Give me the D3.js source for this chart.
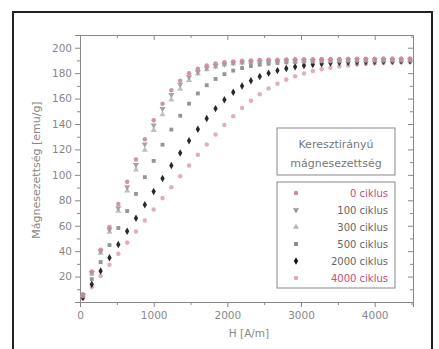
<!DOCTYPE html>
<html><head>
<meta charset="utf-8">
<script src="https://d3js.org/d3.v7.min.js"></script>
<style>
  body { margin: 0; background: #fff; }
  text { font-family: "DejaVu Sans", "Liberation Sans", sans-serif; }
  .tick text { fill: #888; font-size: 10.5px; }
  .tick line, .domain { stroke: #888; }
</style>
</head>
<body>
<script>
// field values [A/m]
const H = [40,160,280,400,520,640,760,880,1000,1120,1240,1360,1480,1600,1720,1840,1960,2080,2200,2320,
           2440,2560,2680,2800,2920,3040,3160,3280,3400,3520,3640,3760,3880,4000,4120,4240,4360,4480];

// magnetisation [emu/g] for each cycle count
const m0    = [6,24,41,59,77,94.5,112,128,143,156,166.5,174,180,183.5,186,187.5,188.5,189.2,189.7,190,
               190.3,190.5,190.6,190.8,190.9,191,191,191.1,191.2,191.2,191.3,191.3,191.4,191.4,191.5,191.5,191.5,191.6];
const m100  = [5.7,23,40,57,74,90.5,108,124,139,152,163,171,177,181,184,185.8,187,187.9,188.4,188.8,
               189,189.2,189.4,189.5,189.6,189.7,189.8,189.9,190,190,190.1,190.1,190.2,190.2,190.3,190.3,190.4,190.4];
const m300  = [5.5,22,38.6,55,71.5,87.5,104,119.5,135,147.5,159,167.5,174.5,179.5,182.8,185,186.6,187.6,188.2,188.7,
               189,189.2,189.4,189.5,189.6,189.7,189.8,189.9,190,190,190.1,190.1,190.2,190.2,190.3,190.3,190.3,190.4];
const m500  = [4.5,18,31.4,44.8,58.2,71.5,85,98.2,111,123.7,135.6,146.5,156,164,170.5,175.4,179.2,182,184,185.6,
               186.6,187.4,188,188.4,188.7,189,189.2,189.4,189.5,189.6,189.7,189.8,189.9,190,190,190.1,190.1,190.2];
const m2000 = [3.5,13.9,24.4,34.8,45.2,55.7,65.9,76.5,86.9,97.1,107.3,117.2,126.8,135.9,144.4,152.1,159,164.9,169.9,174,
               177.3,180,182,183.7,185,186,186.8,187.4,187.9,188.3,188.6,188.8,189,189.2,189.3,189.4,189.5,189.6];
const m4000 = [2.9,11.7,20.4,29.2,38,46.7,55.5,64.1,72.8,81.7,90.3,98.9,107.4,115.8,123.9,131.7,139.2,146.1,152.5,158.3,
               163.4,167.9,171.6,174.9,177.6,179.8,181.6,183.1,184.3,185.3,186,186.7,187.2,187.6,188,188.3,188.5,188.7];

const labels  = ["0 ciklus","100 ciklus","300 ciklus","500 ciklus","2000 ciklus","4000 ciklus"];
const xTicks  = [0,1000,2000,3000,4000];
const yTicks  = [20,40,60,80,100,120,140,160,180,200];

const series = [
  {name: labels[0], vals: m0,    sym: d3.symbolCircle,   fill: "#c98a9e", text: "#c0507a", size: 16},
  {name: labels[1], vals: m100,  sym: d3.symbolTriangle, fill: "#9a9a9a", text: "#666", size: 16, rot: 180},
  {name: labels[2], vals: m300,  sym: d3.symbolTriangle, fill: "#b8b8b8", text: "#666", size: 16},
  {name: labels[3], vals: m500,  sym: d3.symbolSquare,   fill: "#8a8a8a", text: "#666", size: 15},
  {name: labels[4], vals: m2000, sym: d3.symbolDiamond,  fill: "#111",    text: "#666", size: 16},
  {name: labels[5], vals: m4000, sym: d3.symbolCircle,   fill: "#dba6b6", text: "#c0507a", size: 16}
];

const svg = d3.select("body").append("svg")
  .attr("width", 439).attr("height", 349);

// outer frame
svg.append("rect").attr("x", 13).attr("y", 12).attr("width", 419).attr("height", 400)
  .attr("fill", "none").attr("stroke", "#222").attr("stroke-width", 2);

const margin = {left: 80, top: 35, right: 413, bottom: 302};
const x = d3.scaleLinear().domain([0, 4520]).range([margin.left, margin.right]);
const y = d3.scaleLinear().domain([0, 210]).range([margin.bottom, margin.top]);

// minor ticks
const xMinor = d3.range(500, 4520, 1000);
const yMinor = d3.range(10, 210, 20);

svg.append("g").attr("transform", `translate(0,${margin.bottom})`)
  .call(d3.axisBottom(x).tickValues(xTicks).tickSize(5).tickPadding(5).tickFormat(d3.format("d")));
svg.append("g").attr("transform", `translate(0,${margin.bottom})`)
  .call(d3.axisBottom(x).tickValues(xMinor).tickSize(3).tickFormat(""))
  .call(g => g.select(".domain").remove());
svg.append("g").attr("transform", `translate(0,${margin.top})`)
  .call(d3.axisBottom(x).tickValues(xTicks).tickSize(5).tickFormat(""));
svg.append("g").attr("transform", `translate(0,${margin.top})`)
  .call(d3.axisBottom(x).tickValues(xMinor).tickSize(3).tickFormat(""))
  .call(g => g.select(".domain").remove());

svg.append("g").attr("transform", `translate(${margin.left},0)`)
  .call(d3.axisLeft(y).tickValues(yTicks).tickSize(5).tickPadding(3));
svg.append("g").attr("transform", `translate(${margin.left},0)`)
  .call(d3.axisLeft(y).tickValues(yMinor).tickSize(3).tickFormat(""))
  .call(g => g.select(".domain").remove());
svg.append("g").attr("transform", `translate(${margin.right},0)`)
  .call(d3.axisLeft(y).tickValues(yTicks).tickSize(5).tickFormat(""));
svg.append("g").attr("transform", `translate(${margin.right},0)`)
  .call(d3.axisLeft(y).tickValues(yMinor).tickSize(3).tickFormat(""))
  .call(g => g.select(".domain").remove());

// axis titles
svg.append("text").attr("x", 249).attr("y", 337)
  .attr("text-anchor", "middle").attr("fill", "#888").style("font-size", "10.5px")
  .text("H [A/m]");
svg.append("text").attr("transform", `translate(40,170) rotate(-90)`)
  .attr("text-anchor", "middle").attr("fill", "#888").style("font-size", "11px")
  .text("Mágnesezettség [emu/g]");

// data points (drawn from last to first so the leftmost curve sits on top)
const pts = svg.append("g");
series.slice().reverse().forEach(s => {
  pts.selectAll(null).data(s.vals.map((v, i) => [H[i], v]))
    .join("path")
    .attr("d", d3.symbol().type(s.sym).size(s.size))
    .attr("transform", d => `translate(${x(d[0])},${y(d[1])})` + (s.rot ? ` rotate(${s.rot})` : ""))
    .attr("fill", s.fill).attr("opacity", 0.9);
});

// legend
const lg = svg.append("g");
lg.append("rect").attr("x", 277).attr("y", 128).attr("width", 118).attr("height", 47)
  .attr("fill", "#fff").attr("stroke", "#888");
lg.append("text").attr("x", 336).attr("y", 148).attr("text-anchor", "middle")
  .attr("fill", "#777").style("font-size", "11px").text("Keresztirányú");
lg.append("text").attr("x", 336).attr("y", 167).attr("text-anchor", "middle")
  .attr("fill", "#777").style("font-size", "11px").text("mágnesezettség");

lg.append("rect").attr("x", 277).attr("y", 182).attr("width", 118).attr("height", 106)
  .attr("fill", "#fff").attr("stroke", "#888");
const ly = d3.scalePoint().domain(labels).range([193, 278]);
series.forEach(s => {
  lg.append("path").attr("d", d3.symbol().type(s.sym).size(s.size))
    .attr("transform", `translate(296,${ly(s.name)})` + (s.rot ? ` rotate(${s.rot})` : ""))
    .attr("fill", s.fill);
  lg.append("text").attr("x", 388).attr("y", ly(s.name)).attr("dy", "0.35em")
    .attr("text-anchor", "end").attr("fill", s.text).style("font-size", "10px")
    .text(s.name);
});
</script>
</body></html>
